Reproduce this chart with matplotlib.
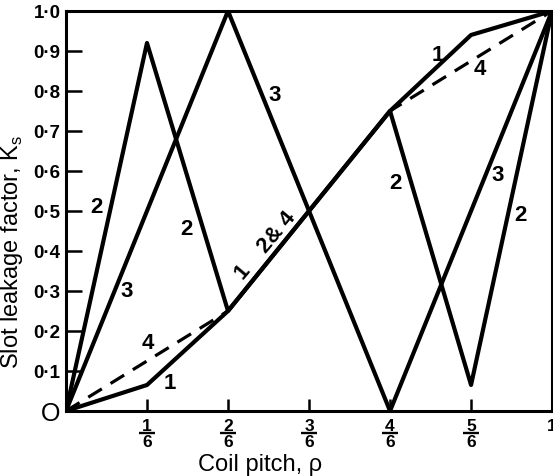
import numpy as np
import matplotlib
matplotlib.use('Agg')
import matplotlib.pyplot as plt

plt.rcParams['font.family'] = ['Liberation Sans', 'DejaVu Sans']
plt.rcParams['mathtext.fontset'] = 'custom'
plt.rcParams['mathtext.rm'] = 'Liberation Sans'

# coil pitch values and slot leakage factor for the four cases
pitch = [0, 1/6, 2/6, 3/6, 4/6, 5/6, 1]
k1 = [0, 0.065, 0.25, 0.5, 0.75, 0.94, 1.0]
k2 = [0, 0.92, 0.25, 0.5, 0.75, 0.065, 1.0]
k3 = [0, 0.5, 1.0, 0.5, 0, 0.5, 1.0]
k4 = [0, 0.125, 0.25, 0.5, 0.75, 0.875, 1.0]

# x ticks are written as fractions: numerator / denominator
xtick_vals = [1/6, 2/6, 3/6, 4/6, 5/6, 1]
xtick_num = ['1', '2', '3', '4', '5', '1']
xtick_den = ['6', '6', '6', '6', '6', '']
ytick_vals = [0, 0.1, 0.2, 0.3, 0.4, 0.5, 0.6, 0.7, 0.8, 0.9, 1.0]
ytick_labels = ['O', '0·1', '0·2', '0·3', '0·4', '0·5', '0·6', '0·7', '0·8', '0·9', '1·0']

# curve labels: text, x, y, rotation
curve_labels = [
    ('2', 0.062, 0.51, 0), ('3', 0.125, 0.30, 0), ('4', 0.169, 0.17, 0),
    ('1', 0.214, 0.07, 0), ('2', 0.247, 0.455, 0), ('1', 0.362, 0.35, 50),
    ('2& 4', 0.434, 0.45, 50), ('3', 0.43, 0.79, 0), ('2', 0.677, 0.57, 0),
    ('3', 0.887, 0.59, 0), ('2', 0.934, 0.49, 0), ('1', 0.765, 0.89, 0),
    ('4', 0.852, 0.855, 0),
]

fig = plt.figure(figsize=(5.53, 4.77), dpi=100)
ax = fig.add_axes([0.1193, 0.1363, 0.879, 0.8386])

lw = 3.0
ax.plot(pitch, k4, color='black', lw=2.3, ls=(0, (5, 3.2)), solid_capstyle='butt')
ax.plot(pitch, k3, color='black', lw=lw)
ax.plot(pitch, k2, color='black', lw=lw)
ax.plot(pitch, k1, color='black', lw=lw)

for txt, x, y, rot in curve_labels:
    ax.text(x, y, txt, fontsize=16, fontweight='bold', ha='center', va='center',
            rotation=rot)

ax.set_xlim(0, 1)
ax.set_ylim(0, 1)
for s in ax.spines.values():
    s.set_linewidth(2.2)

ax.set_xticks(xtick_vals)
ax.set_xticklabels(xtick_num, fontsize=12.5, fontweight='bold')
ax.set_yticks(ytick_vals)
ax.set_yticklabels(ytick_labels, fontsize=13.5, fontweight='bold')
ax.get_yticklabels()[0].set_fontsize(18)
ax.get_yticklabels()[0].set_fontweight('normal')
ax.tick_params(axis='x', direction='in', length=8.5, width=1.8, pad=5)
ax.tick_params(axis='y', direction='in', length=11.5, width=1.8, pad=4)

# fraction bars and denominators under the tick numbers
xt = ax.get_xaxis_transform()
for x, den in zip(xtick_vals, xtick_den):
    if not den:
        continue
    ax.plot([x - 0.017, x + 0.017], [-0.054, -0.054], color='black', lw=1.7,
            transform=xt, clip_on=False, solid_capstyle='butt')
    ax.text(x, -0.076, den, fontsize=12.5, fontweight='bold', ha='center',
            va='center', transform=xt)

ax.set_xlabel('Coil pitch, ρ', fontsize=17)
ax.xaxis.set_label_coords(0.40, -0.105)
ax.set_ylabel('Slot leakage factor, K$_\\mathregular{s}$', fontsize=17)
ax.yaxis.set_label_coords(-0.085, 0.40)

fig.savefig('out.png', dpi=100)
